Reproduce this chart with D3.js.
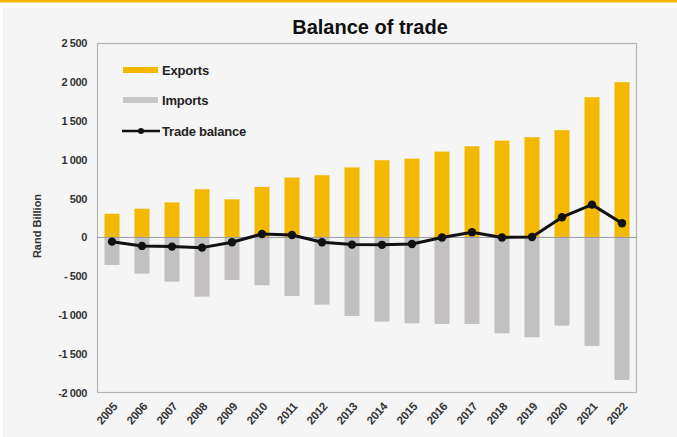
<!DOCTYPE html>
<html><head><meta charset="utf-8">
<script src="https://cdn.jsdelivr.net/npm/d3@7/dist/d3.min.js"></script>
<style>
html,body{margin:0;padding:0;background:#fff;}
svg{display:block;font-family:"Liberation Sans",Arial,sans-serif;}
</style></head>
<body>
<script>
const years = ["2005","2006","2007","2008","2009","2010","2011","2012","2013","2014","2015","2016","2017","2018","2019","2020","2021","2022"];
const exportsVals = [305, 370, 450, 620, 490, 650, 770, 800, 900, 993, 1013, 1104, 1172, 1245, 1289, 1379, 1803, 1996];
const importsVals = [-354, -465, -568, -761, -547, -615, -752, -864, -1009, -1082, -1104, -1112, -1112, -1232, -1283, -1134, -1395, -1832];
const tradeBalance = [-54, -109, -118, -131, -62, 45, 32, -62, -92, -95, -84, 0, 66, 0, 5, 260, 422, 182];
const yTicks = [2500, 2000, 1500, 1000, 500, 0, -500, -1000, -1500, -2000];
const yTickLabels = ["2 500", "2 000", "1 500", "1 000", "500", "0", "- 500", "-1 000", "-1 500", "-2 000"];
const legendLabels = ["Exports", "Imports", "Trade balance"];

const W = 677, H = 437;
const m = {left: 97, right: 637, top: 43, bottom: 393};
const svg = d3.select("body").append("svg").attr("width", W).attr("height", H);

// frame
svg.append("rect").attr("x", 0).attr("y", 0).attr("width", W).attr("height", 2.5).attr("fill", "#F5B800");
svg.append("rect").attr("x", 3).attr("y", 8).attr("width", W - 3).attr("height", H - 8).attr("fill", "#f5f5f5");

const x = d3.scaleBand().domain(years).range([m.left, m.right]).paddingInner(0.5).paddingOuter(0.25);
const y = d3.scaleLinear().domain([-2000, 2500]).range([m.bottom, m.top]);

// plot border
svg.append("rect").attr("x", m.left + 0.5).attr("y", m.top + 0.5)
  .attr("width", m.right - m.left - 1).attr("height", m.bottom - m.top - 1)
  .attr("fill", "none").attr("stroke", "#b5b5b5").attr("stroke-width", 1.2);

// bars
svg.append("g").selectAll("rect").data(years).join("rect")
  .attr("x", d => x(d)).attr("width", x.bandwidth())
  .attr("y", (d, i) => y(exportsVals[i])).attr("height", (d, i) => y(0) - y(exportsVals[i]))
  .attr("fill", "#F2B900");
svg.append("g").selectAll("rect").data(years).join("rect")
  .attr("x", d => x(d)).attr("width", x.bandwidth())
  .attr("y", y(0)).attr("height", (d, i) => y(importsVals[i]) - y(0))
  .attr("fill", "#c2c0c0");

// zero line
svg.append("line").attr("x1", m.left).attr("x2", m.right).attr("y1", y(0)).attr("y2", y(0))
  .attr("stroke", "#9a9a9a").attr("stroke-width", 1);

// y axis
const yAxis = d3.axisLeft(y).tickValues(yTicks).tickSize(0).tickPadding(10)
  .tickFormat((d, i) => yTickLabels[yTicks.indexOf(d)]);
const gy = svg.append("g").attr("transform", `translate(${m.left},0)`).call(yAxis);
gy.select(".domain").remove();
gy.selectAll("text").attr("font-size", 11).attr("font-weight", "bold").attr("fill", "#333")
  .attr("font-family", "Liberation Sans, Arial, sans-serif").attr("letter-spacing", -0.4);

// x axis
const xAxis = d3.axisBottom(x).tickSize(0).tickPadding(0);
const gx = svg.append("g").attr("transform", `translate(0,${m.bottom})`).call(xAxis);
gx.select(".domain").remove();
gx.selectAll("text").attr("font-size", 11.5).attr("font-weight", "bold").attr("fill", "#333")
  .attr("font-family", "Liberation Sans, Arial, sans-serif").attr("letter-spacing", -0.3)
  .attr("text-anchor", "end").attr("dy", 0)
  .attr("transform", "translate(6,14) rotate(-48)");

// line
const line = d3.line().x((d, i) => x(years[i]) + x.bandwidth() / 2).y(d => y(d));
svg.append("path").datum(tradeBalance).attr("d", line)
  .attr("fill", "none").attr("stroke", "#111").attr("stroke-width", 3).attr("stroke-linejoin", "round");
svg.append("g").selectAll("circle").data(tradeBalance).join("circle")
  .attr("cx", (d, i) => x(years[i]) + x.bandwidth() / 2).attr("cy", d => y(d)).attr("r", 4.2).attr("fill", "#111");

// title
svg.append("text").attr("x", 370).attr("y", 34).attr("text-anchor", "middle")
  .attr("font-size", 20).attr("font-weight", "bold").attr("fill", "#111").text("Balance of trade");

// y title
svg.append("text").attr("transform", "translate(41,226) rotate(-90)").attr("text-anchor", "middle")
  .attr("font-size", 11).attr("font-weight", "bold").attr("fill", "#333").text("Rand Billion");

// legend
const lg = svg.append("g");
const ly = [70, 100, 131];
lg.append("rect").attr("x", 123).attr("y", ly[0] - 3).attr("width", 35).attr("height", 6).attr("fill", "#F2B900");
lg.append("rect").attr("x", 123).attr("y", ly[1] - 3).attr("width", 35).attr("height", 6).attr("fill", "#c8c6c6");
lg.append("line").attr("x1", 122).attr("x2", 160).attr("y1", ly[2]).attr("y2", ly[2]).attr("stroke", "#111").attr("stroke-width", 2.5);
lg.append("circle").attr("cx", 141).attr("cy", ly[2]).attr("r", 3).attr("fill", "#111");
lg.selectAll("text").data(legendLabels).join("text")
  .attr("x", 162).attr("y", (d, i) => ly[i] + 4.5)
  .attr("font-size", 13).attr("font-weight", "bold").attr("fill", "#222").attr("letter-spacing", -0.2).text(d => d);
</script>
</body></html>
